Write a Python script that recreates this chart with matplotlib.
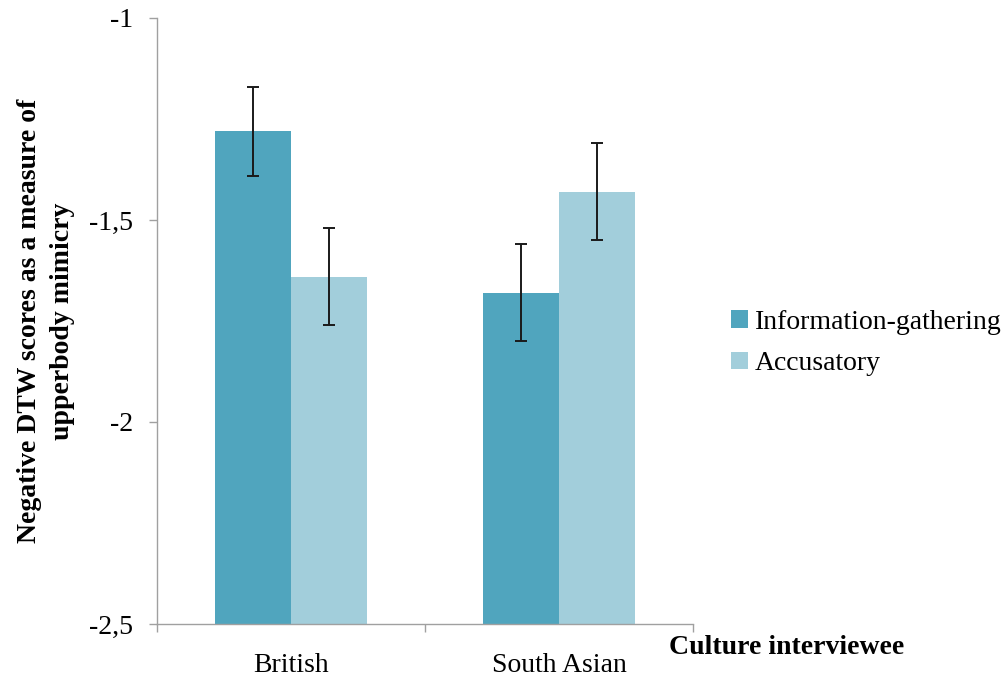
import matplotlib
matplotlib.use("Agg")
import matplotlib.pyplot as plt
from matplotlib.patches import Patch
import numpy as np

categories = ["British", "South Asian"]
series_names = ["Information-gathering", "Accusatory"]
info_vals = [-1.28, -1.68]
acc_vals = [-1.64, -1.43]
info_err = [0.11, 0.12]
acc_err = [0.12, 0.12]
yticks = [-1.0, -1.5, -2.0, -2.5]
ytick_labels = ["-1", "-1,5", "-2", "-2,5"]

c_info = "#50A5BE"
c_acc = "#A2CEDB"
spine_c = "#A0A0A0"
FS = 20

plt.rcParams['font.family'] = ['Liberation Serif', 'DejaVu Serif']

fig = plt.figure(figsize=(10.06, 6.79), dpi=100)
ax = fig.add_axes([157/1006, 1-624/679, (693-157)/1006, (624-18)/679])

base = -2.5
w = 0.2836
x = np.arange(len(categories))
ax.bar(x - w/2, np.array(info_vals) - base, bottom=base, width=w, color=c_info, zorder=2)
ax.bar(x + w/2, np.array(acc_vals) - base, bottom=base, width=w, color=c_acc, zorder=2)
ax.errorbar(x - w/2, info_vals, yerr=info_err, fmt='none', ecolor='#1a1a1a',
            elinewidth=1.4, capsize=4, capthick=1.4, zorder=3)
ax.errorbar(x + w/2, acc_vals, yerr=acc_err, fmt='none', ecolor='#1a1a1a',
            elinewidth=1.4, capsize=4, capthick=1.4, zorder=3)

ax.set_xlim(-0.5, 1.5)
ax.set_ylim(-2.5, -1.0)
ax.set_yticks(yticks)
ax.set_yticklabels(ytick_labels, fontsize=FS)
ax.set_xticks(x)
ax.set_xticklabels(categories, fontsize=FS)
ax.set_xticks([-0.5, 0.5, 1.5], minor=True)
ax.tick_params(axis='x', which='major', length=0, pad=21)
ax.tick_params(axis='x', which='minor', length=6, color=spine_c, width=1)
ax.tick_params(axis='y', which='major', length=6, color=spine_c, width=1, pad=11)

for s in ['top', 'right']:
    ax.spines[s].set_visible(False)
for s in ['left', 'bottom']:
    ax.spines[s].set_color(spine_c)
    ax.spines[s].set_linewidth(1)

fig.text(46/1006, 1-321/679, "Negative DTW scores as a measure of\nupperbody mimicry",
         rotation=90, ha='center', va='center', multialignment='center',
         fontsize=FS, fontweight='bold', linespacing=1.4)
fig.text(669/1006, 1-648/679, "Culture interviewee", ha='left', va='center',
         fontsize=FS, fontweight='bold')

handles = [Patch(facecolor=c_info), Patch(facecolor=c_acc)]
fig.legend(handles, series_names, loc='center left',
           bbox_to_anchor=(731/1006, 1-343/679), frameon=False, fontsize=FS,
           handlelength=0.6, handleheight=0.6, handletextpad=0.25, labelspacing=0.6,
           borderaxespad=0, borderpad=0)

fig.savefig("out.png", dpi=100)
